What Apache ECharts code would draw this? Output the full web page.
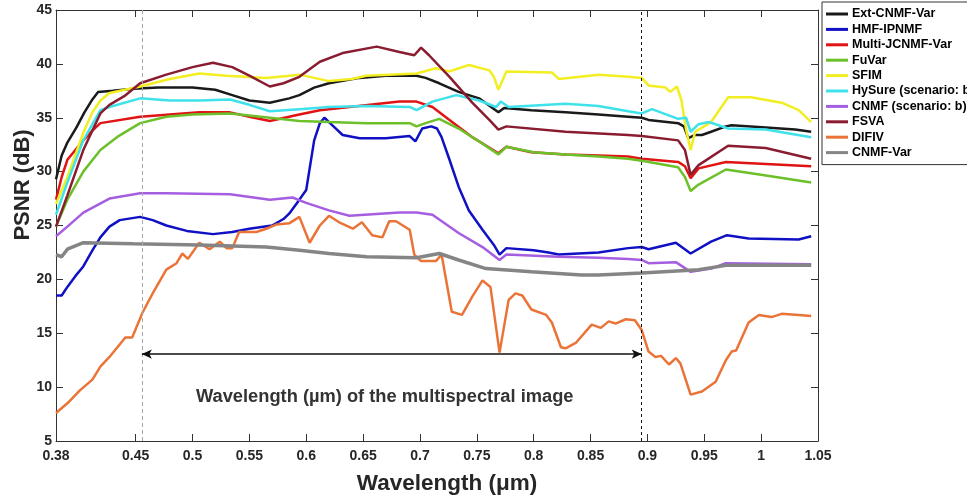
<!DOCTYPE html>
<html>
<head>
<meta charset="utf-8">
<title>PSNR vs wavelength</title>
<script src="https://cdn.jsdelivr.net/npm/echarts@6/dist/echarts.min.js"></script>
<style>
  html, body { margin: 0; padding: 0; background: #fff; }
  #chart { width: 967px; height: 499px; }
</style>
</head>
<body>
<div id="chart"></div>
<script>
// tick labels of the wavelength axis
const wavelengthTicks = [0.38, 0.45, 0.5, 0.55, 0.6, 0.65, 0.7, 0.75, 0.8, 0.85, 0.9, 0.95, 1, 1.05]

// [wavelength (um), PSNR (dB)]
const extCnmfVar = [[0.380, 29.3], [0.385, 31.5], [0.390, 32.7], [0.398, 34.1], [0.405, 35.5], [0.412, 36.7], [0.417, 37.4], [0.430, 37.5], [0.448, 37.7], [0.470, 37.8], [0.500, 37.8], [0.520, 37.6], [0.535, 37.1], [0.550, 36.6], [0.568, 36.4], [0.585, 36.8], [0.594, 37.1], [0.607, 37.8], [0.620, 38.2], [0.647, 38.7], [0.670, 38.9], [0.697, 38.9], [0.705, 38.7], [0.717, 38.2], [0.734, 37.4], [0.752, 36.8], [0.769, 35.5], [0.774, 35.9], [0.798, 35.7], [0.828, 35.5], [0.857, 35.3], [0.883, 35.1], [0.895, 35.0], [0.901, 34.8], [0.927, 34.5], [0.932, 34.2], [0.936, 33.1], [0.942, 33.4], [0.948, 33.4], [0.956, 33.7], [0.969, 34.2], [0.974, 34.3], [1.004, 34.1], [1.030, 33.9], [1.044, 33.7]]
const hmfIpnmf = [[0.380, 18.5], [0.385, 18.5], [0.390, 19.3], [0.397, 20.3], [0.404, 21.2], [0.412, 22.7], [0.419, 23.9], [0.427, 24.9], [0.436, 25.5], [0.454, 25.8], [0.465, 25.5], [0.477, 25.0], [0.495, 24.5], [0.518, 24.2], [0.535, 24.4], [0.550, 24.7], [0.570, 25.0], [0.580, 25.6], [0.585, 26.1], [0.594, 27.4], [0.600, 28.3], [0.607, 32.9], [0.612, 34.5], [0.616, 35.0], [0.624, 34.2], [0.632, 33.4], [0.647, 33.1], [0.670, 33.1], [0.691, 33.3], [0.696, 32.8], [0.702, 34.0], [0.710, 34.2], [0.715, 34.0], [0.719, 33.2], [0.726, 31.1], [0.734, 28.6], [0.743, 26.4], [0.755, 24.6], [0.765, 23.2], [0.770, 22.3], [0.776, 22.9], [0.800, 22.7], [0.813, 22.5], [0.822, 22.3], [0.857, 22.5], [0.883, 22.9], [0.895, 23.0], [0.901, 22.8], [0.925, 23.4], [0.938, 22.4], [0.956, 23.5], [0.970, 24.1], [0.989, 23.8], [1.033, 23.7], [1.044, 24.0]]
const multiJcnmfVar = [[0.380, 27.4], [0.385, 29.5], [0.390, 31.1], [0.404, 32.9], [0.412, 33.8], [0.419, 34.5], [0.454, 35.1], [0.480, 35.3], [0.506, 35.5], [0.533, 35.5], [0.550, 35.1], [0.568, 34.7], [0.594, 35.3], [0.612, 35.7], [0.638, 36.0], [0.682, 36.5], [0.697, 36.5], [0.711, 36.0], [0.726, 34.8], [0.746, 33.2], [0.769, 31.7], [0.776, 32.3], [0.798, 31.8], [0.828, 31.6], [0.857, 31.5], [0.883, 31.4], [0.895, 31.2], [0.927, 30.9], [0.933, 30.5], [0.938, 29.4], [0.945, 30.3], [0.969, 30.9], [1.044, 30.5]]
const fuVar = [[0.380, 24.9], [0.390, 27.4], [0.404, 30.0], [0.419, 32.0], [0.435, 33.3], [0.454, 34.5], [0.477, 35.1], [0.500, 35.3], [0.533, 35.4], [0.560, 35.1], [0.594, 34.7], [0.620, 34.6], [0.653, 34.5], [0.691, 34.5], [0.697, 34.2], [0.705, 34.5], [0.717, 34.9], [0.734, 34.0], [0.755, 32.6], [0.769, 31.6], [0.776, 32.3], [0.800, 31.8], [0.828, 31.6], [0.857, 31.4], [0.883, 31.2], [0.895, 31.0], [0.927, 30.4], [0.933, 29.5], [0.938, 28.2], [0.945, 28.8], [0.969, 30.2], [1.000, 29.7], [1.044, 29.0]]
const sfim = [[0.380, 27.0], [0.390, 29.5], [0.404, 33.6], [0.412, 35.5], [0.419, 36.6], [0.427, 37.3], [0.454, 37.9], [0.480, 38.6], [0.506, 39.1], [0.530, 38.9], [0.565, 38.7], [0.594, 39.0], [0.620, 38.4], [0.640, 38.6], [0.653, 38.9], [0.697, 39.1], [0.714, 39.6], [0.726, 39.3], [0.743, 39.9], [0.761, 39.4], [0.765, 38.8], [0.769, 37.6], [0.776, 39.3], [0.816, 39.2], [0.822, 38.6], [0.857, 39.0], [0.883, 38.8], [0.895, 38.7], [0.901, 38.0], [0.916, 37.8], [0.920, 37.4], [0.926, 37.9], [0.930, 36.6], [0.934, 33.9], [0.938, 32.0], [0.942, 33.7], [0.956, 34.6], [0.971, 36.9], [0.991, 36.9], [1.018, 36.4], [1.033, 35.7], [1.044, 34.6]]
const hySure = [[0.380, 26.0], [0.390, 29.0], [0.404, 32.9], [0.419, 35.7], [0.427, 36.0], [0.454, 36.8], [0.480, 36.6], [0.506, 36.6], [0.533, 36.7], [0.550, 36.2], [0.568, 35.6], [0.594, 35.8], [0.620, 36.0], [0.653, 36.1], [0.691, 36.0], [0.697, 35.7], [0.711, 36.5], [0.732, 37.1], [0.752, 36.6], [0.767, 36.0], [0.771, 36.5], [0.778, 36.0], [0.828, 36.3], [0.857, 36.1], [0.883, 35.6], [0.895, 35.4], [0.904, 35.8], [0.927, 34.9], [0.934, 35.0], [0.938, 33.7], [0.945, 34.4], [0.954, 34.6], [0.971, 34.0], [1.004, 33.9], [1.044, 33.2]]
const cnmf = [[0.380, 24.0], [0.390, 24.9], [0.404, 26.2], [0.427, 27.5], [0.454, 28.0], [0.477, 28.0], [0.533, 27.9], [0.568, 27.4], [0.588, 27.6], [0.600, 27.1], [0.620, 26.4], [0.638, 25.9], [0.682, 26.2], [0.697, 26.2], [0.711, 26.0], [0.734, 24.3], [0.755, 23.0], [0.770, 21.8], [0.776, 22.3], [0.822, 22.1], [0.857, 22.0], [0.883, 21.9], [0.895, 21.8], [0.901, 21.5], [0.925, 21.6], [0.938, 20.7], [0.956, 21.0], [0.969, 21.5], [1.044, 21.4]]
const fsva = [[0.380, 24.9], [0.390, 27.8], [0.404, 32.0], [0.419, 35.4], [0.427, 36.2], [0.440, 37.0], [0.454, 38.2], [0.477, 39.0], [0.500, 39.7], [0.518, 40.1], [0.535, 39.7], [0.550, 38.9], [0.568, 37.9], [0.580, 38.2], [0.594, 38.8], [0.612, 40.2], [0.632, 41.0], [0.662, 41.6], [0.682, 41.1], [0.695, 40.8], [0.701, 41.5], [0.708, 40.8], [0.726, 38.8], [0.746, 36.4], [0.761, 34.8], [0.769, 33.9], [0.776, 34.2], [0.828, 33.7], [0.883, 33.4], [0.895, 33.3], [0.927, 32.9], [0.933, 32.0], [0.938, 29.7], [0.945, 30.6], [0.971, 32.4], [1.004, 32.2], [1.044, 31.2]]
const difiv = [[0.380, 7.6], [0.390, 8.5], [0.401, 9.7], [0.412, 10.7], [0.419, 11.9], [0.427, 12.8], [0.441, 14.6], [0.447, 14.6], [0.456, 16.9], [0.465, 18.7], [0.477, 20.9], [0.486, 21.5], [0.491, 22.4], [0.496, 21.9], [0.506, 23.4], [0.515, 22.8], [0.524, 23.5], [0.530, 22.9], [0.535, 22.9], [0.541, 24.4], [0.556, 24.4], [0.565, 24.7], [0.574, 25.1], [0.585, 25.2], [0.594, 25.8], [0.603, 23.4], [0.612, 25.0], [0.620, 25.9], [0.629, 25.3], [0.641, 24.7], [0.649, 25.3], [0.658, 24.1], [0.667, 23.9], [0.673, 25.4], [0.679, 25.4], [0.691, 24.6], [0.695, 22.3], [0.701, 21.7], [0.714, 21.7], [0.719, 22.3], [0.728, 17.0], [0.737, 16.7], [0.746, 18.4], [0.755, 19.9], [0.762, 19.3], [0.770, 13.2], [0.778, 18.1], [0.784, 18.7], [0.790, 18.5], [0.798, 17.2], [0.811, 16.7], [0.816, 16.0], [0.824, 13.7], [0.828, 13.6], [0.837, 14.1], [0.851, 15.8], [0.859, 15.5], [0.866, 16.1], [0.872, 15.9], [0.881, 16.3], [0.889, 16.2], [0.895, 15.3], [0.901, 13.3], [0.907, 12.8], [0.912, 12.9], [0.919, 12.1], [0.925, 12.7], [0.929, 12.2], [0.938, 9.3], [0.948, 9.6], [0.960, 10.5], [0.969, 12.5], [0.974, 13.3], [0.978, 13.4], [0.989, 16.0], [0.998, 16.7], [1.009, 16.5], [1.018, 16.8], [1.033, 16.7], [1.044, 16.6]]
const cnmfVar = [[0.380, 22.3], [0.385, 22.1], [0.390, 22.8], [0.404, 23.4], [0.448, 23.3], [0.506, 23.2], [0.565, 23.0], [0.594, 22.7], [0.620, 22.4], [0.653, 22.1], [0.697, 22.0], [0.717, 22.4], [0.734, 21.8], [0.758, 21.0], [0.798, 20.7], [0.842, 20.4], [0.857, 20.4], [0.895, 20.6], [0.945, 20.9], [0.969, 21.3], [1.044, 21.3]]

// band of the multispectral image and the arrow drawn across it
const msBand = [0.4555, 0.895]
const arrowLevel = 13.07
const noteAt = [0.669, 9.1]

const methods = [
  { name: 'Ext-CNMF-Var', data: extCnmfVar, color: '#1a1a1a', width: 2.5 },
  { name: 'HMF-IPNMF', data: hmfIpnmf, color: '#1010c4', width: 2.5 },
  { name: 'Multi-JCNMF-Var', data: multiJcnmfVar, color: '#e01414', width: 2.5 },
  { name: 'FuVar', data: fuVar, color: '#6cc02a', width: 2.5 },
  { name: 'SFIM', data: sfim, color: '#f2ee22', width: 2.5 },
  { name: 'HySure (scenario: b)', data: hySure, color: '#3fe2ea', width: 2.5 },
  { name: 'CNMF (scenario: b)', data: cnmf, color: '#a55ee0', width: 2.5 },
  { name: 'FSVA', data: fsva, color: '#8a1c30', width: 2.5 },
  { name: 'DIFIV', data: difiv, color: '#ea7438', width: 2.5 },
  { name: 'CNMF-Var', data: cnmfVar, color: '#858585', width: 3.5 }
]

const font = 'Liberation Sans, Arial, Helvetica, sans-serif'
const inkColor = '#262626'

const chart = echarts.init(document.getElementById('chart'))

const annotation = {
  name: 'annotation',
  type: 'line',
  data: [],
  silent: true,
  markLine: {
    silent: true,
    precision: 4,
    symbol: ['none', 'none'],
    label: { show: false },
    data: [
      { xAxis: msBand[0], lineStyle: { color: '#a8a8a8', type: [4, 3], width: 1 } },
      { xAxis: msBand[1], lineStyle: { color: '#111', type: [3, 3], width: 1 } },
      [
        { coord: [msBand[0], arrowLevel], symbol: 'arrow', symbolSize: [7, 10] },
        { coord: [msBand[1], arrowLevel], symbol: 'arrow', symbolSize: [7, 10] }
      ]
    ],
    lineStyle: { color: '#111', type: 'solid', width: 1.6 }
  },
  markPoint: {
    silent: true,
    symbol: 'circle',
    symbolSize: 0,
    data: [{ coord: noteAt }],
    label: {
      show: true,
      position: 'inside',
      formatter: 'Wavelength (\u00b5m) of the multispectral image',
      fontFamily: font,
      fontWeight: 'bold',
      fontSize: 18.3,
      color: '#333'
    }
  }
}

const option = {
  animation: false,
  backgroundColor: '#fff',
  grid: { left: 56, top: 10, right: 149, bottom: 58 },
  legend: {
    data: methods.map(m => m.name),
    orient: 'vertical',
    left: 822,
    top: 2,
    padding: [5, 4, 5, 4],
    itemWidth: 22,
    itemHeight: 3,
    itemGap: 1.4,
    icon: 'rect',
    borderColor: '#333',
    borderWidth: 1,
    backgroundColor: '#fff',
    selectedMode: false,
    textStyle: { fontFamily: font, fontWeight: 'bold', fontSize: 12.5, color: '#000', lineHeight: 14, padding: [0, 0, 0, -1] }
  },
  graphic: [
    {
      type: 'text', x: 23, y: 185, rotation: Math.PI / 2,
      style: { text: 'PSNR (dB)', font: 'bold 22px ' + font, fill: inkColor, align: 'center', verticalAlign: 'middle' }
    },
    {
      type: 'text', x: 447, y: 484,
      style: { text: 'Wavelength (\u03bcm)', font: 'bold 22.5px ' + font, fill: inkColor, align: 'center', verticalAlign: 'middle' }
    }
  ],
  xAxis: [
    {
      type: 'value', min: 0.38, max: 1.05,
      axisLine: { lineStyle: { color: '#333', width: 1 } },
      axisTick: { inside: true, length: 7, customValues: wavelengthTicks, lineStyle: { color: '#333' } },
      axisLabel: { customValues: wavelengthTicks, margin: 8, fontFamily: font, fontWeight: 'bold', fontSize: 14, color: inkColor },
      splitLine: { show: false }
    },
    {
      type: 'value', min: 0.38, max: 1.05, position: 'top',
      axisLine: { show: true, lineStyle: { color: '#333', width: 1 } },
      axisTick: { show: true, inside: true, length: 7, customValues: wavelengthTicks, lineStyle: { color: '#333' } },
      axisLabel: { show: false },
      splitLine: { show: false }
    }
  ],
  yAxis: [
    {
      type: 'value', min: 5, max: 45, interval: 5,
      axisLine: { show: true, lineStyle: { color: '#333', width: 1 } },
      axisTick: { show: true, inside: true, length: 7, lineStyle: { color: '#333' } },
      axisLabel: { margin: 4, fontFamily: font, fontWeight: 'bold', fontSize: 14, color: inkColor },
      splitLine: { show: false }
    },
    {
      type: 'value', min: 5, max: 45, interval: 5, position: 'right',
      axisLine: { show: true, lineStyle: { color: '#333', width: 1 } },
      axisTick: { show: true, inside: true, length: 7, lineStyle: { color: '#333' } },
      axisLabel: { show: false },
      splitLine: { show: false }
    }
  ],
  series: [annotation].concat(methods.map(m => ({
    name: m.name,
    type: 'line',
    data: m.data,
    showSymbol: false,
    symbol: 'none',
    color: m.color,
    lineStyle: { color: m.color, width: m.width },
    emphasis: { disabled: true }
  })))
}

chart.setOption(option)
</script>
</body>
</html>
